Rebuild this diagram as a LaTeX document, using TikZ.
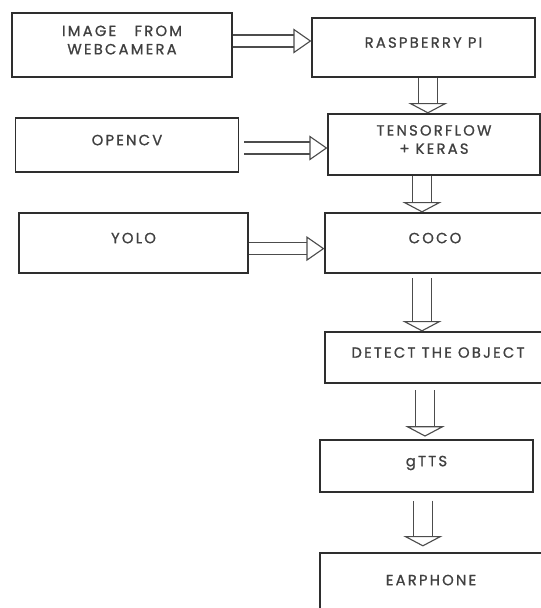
\documentclass[tikz,border=0pt]{standalone}
\usepackage{fontspec}
\usetikzlibrary{arrows.meta}
\newfontfamily\boxfont[LetterSpace=15, FakeBold=1]{Poppins}
\definecolor{randgrau}{gray}{.18}
\definecolor{textgrau}{gray}{.25}
\definecolor{pfeilgrau}{gray}{.3}

\begin{document}
\begin{tikzpicture}[x=0.025cm,y=-0.025cm,
    box/.style={draw=randgrau, line width=.8pt, inner sep=0pt, align=center, text=textgrau,
      font=\boxfont\fontsize{10.5}{13}\selectfont, text depth=.25cm},
    harr/.style={draw=pfeilgrau, line width=.8pt, double=white, double distance=.27cm,
      -{Triangle[open, length=.45cm, width=.62cm, line width=.8pt]}},
    varr/.style={draw=pfeilgrau, line width=.8pt, double=white, double distance=.43cm,
      -{Triangle[open, length=.26cm, width=.98cm, line width=.8pt]}}]
    \useasboundingbox (0,0) rectangle (541,608);
    \clip (0,0) rectangle (541,608);
    % left column
    \node[box, minimum width=5.5cm, minimum height=1.6cm] (img) at (122,45) {IMAGE~~~FROM\\WEBCAMERA};
    \node[box, minimum width=5.59cm, minimum height=1.35cm] (ocv) at (127,145) {OPENCV};
    \node[box, minimum width=5.725cm, minimum height=1.5cm] (yolo) at (133.5,243) {YOLO};
    % right column
    \node[box, minimum width=5.575cm, minimum height=1.475cm] (rpi) at (423.5,47.5) {RASPBERRY PI};
    \node[box, minimum width=5.3cm, minimum height=1.525cm] (tfk) at (434,144.5) {TENSORFLOW\\+ KERAS};
    \node[box, minimum width=5.5cm, minimum height=1.5cm] (coco) at (435,243) {COCO};
    \node[box, minimum width=5.65cm, minimum height=1.275cm] (det) at (438,357.5) {DETECT THE OBJECT};
    \node[box, minimum width=5.325cm, minimum height=1.3cm] (gtts) at (426.5,466) {gTTS};
    \node[box, minimum width=5.55cm, minimum height=1.6cm] (ear) at (431,585) {EARPHONE};
    % arrows left to right
    \coordinate (a1) at ([yshift=.1cm]img.east);
    \coordinate (a2) at ([yshift=-.075cm]ocv.east);
    \coordinate (a3) at ([yshift=-.14cm]yolo.east);
    \draw[harr] (a1) -- (a1 -| rpi.west);
    \draw[harr, shorten <=.12cm] (a2) -- (a2 -| tfk.west);
    \draw[harr] (a3) -- (a3 -| coco.west);
    % arrows downwards
    \draw[varr] ([xshift=.11cm]rpi.south) -- ([xshift=.11cm]rpi.south |- tfk.north);
    \draw[varr] ([xshift=-.3cm]tfk.south) -- ([xshift=-.3cm]tfk.south |- coco.north);
    \draw[varr, shorten <=.12cm] ([xshift=-.325cm]coco.south) -- ([xshift=-.325cm]coco.south |- det.north);
    \draw[varr, shorten <=.17cm, shorten >=.07cm] ([xshift=-.325cm]det.south) -- ([xshift=-.325cm]det.south |- gtts.north);
    \draw[varr, shorten <=.2cm, shorten >=.15cm] ([xshift=-.09cm]gtts.south) -- ([xshift=-.09cm]gtts.south |- ear.north);
\end{tikzpicture}
\end{document}
